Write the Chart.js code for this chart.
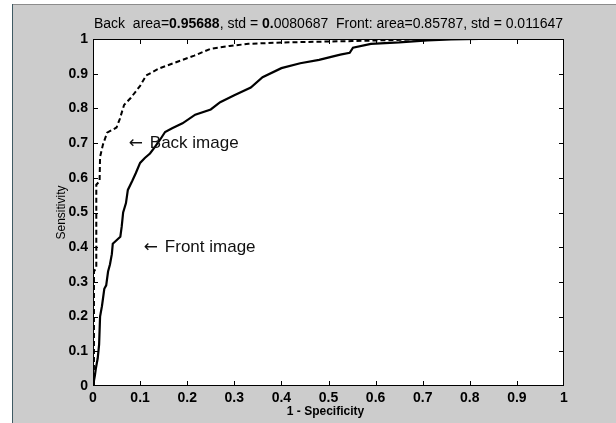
<!DOCTYPE html>
<html>
<head>
<meta charset="utf-8">
<script src="https://cdn.jsdelivr.net/npm/chart.js@4/dist/chart.umd.min.js"></script>
<style>
  html, body { margin: 0; padding: 0; background: #ffffff; }
  canvas { display: block; }
</style>
</head>
<body>
<canvas id="roc" width="616" height="423"></canvas>
<script>
// ROC curves (1 - specificity, sensitivity)
const backFpr = [0.002, 0.002, 0.007, 0.007, 0.014, 0.015, 0.021, 0.03, 0.05, 0.057, 0.066, 0.08, 0.1, 0.113, 0.14, 0.174, 0.215, 0.25, 0.29, 0.33, 0.4, 0.55, 0.72];
const backTpr = [0, 0.33, 0.34, 0.58, 0.59, 0.66, 0.695, 0.73, 0.745, 0.77, 0.81, 0.83, 0.865, 0.895, 0.915, 0.932, 0.952, 0.972, 0.98, 0.986, 0.99, 0.994, 1.0];

const frontFpr = [0, 0.004, 0.006, 0.01, 0.013, 0.015, 0.019, 0.021, 0.024, 0.028, 0.032, 0.036, 0.04, 0.042, 0.05, 0.058, 0.061, 0.064, 0.07, 0.074, 0.083, 0.091, 0.1, 0.11, 0.121, 0.132, 0.142, 0.153, 0.168, 0.19, 0.217, 0.25, 0.27, 0.3, 0.335, 0.36, 0.4, 0.44, 0.48, 0.525, 0.545, 0.552, 0.59, 0.65, 0.71, 0.76, 0.82];
const frontTpr = [0, 0.03, 0.05, 0.08, 0.12, 0.2, 0.23, 0.25, 0.28, 0.29, 0.33, 0.35, 0.38, 0.41, 0.42, 0.43, 0.46, 0.5, 0.527, 0.565, 0.59, 0.614, 0.643, 0.657, 0.67, 0.69, 0.709, 0.732, 0.743, 0.757, 0.782, 0.797, 0.818, 0.838, 0.86, 0.89, 0.916, 0.93, 0.94, 0.955, 0.96, 0.975, 0.986, 0.99, 0.996, 0.999, 1.0];

const tickLabels = ['0', '0.1', '0.2', '0.3', '0.4', '0.5', '0.6', '0.7', '0.8', '0.9', '1'];

// title is drawn in pieces because some numbers are bold in the original
const titleParts = [
  ['Back  area=', false], ['0.95688', true], [', std = ', false], ['0.', true],
  ['0080687  Front: area=0.85787, std = 0.011647', false]
];
const xLabel = '1 - Specificity';
const yLabel = 'Sensitivity';
const notes = [
  { text: 'Back image', x: 0.076, y: 0.70 },
  { text: 'Front image', x: 0.108, y: 0.40 }
];

const FONT = '"Liberation Sans", Arial, sans-serif';

function toPoints(xs, ys){
  return xs.map((x, i) => ({ x: x, y: ys[i] }));
}

const framePlugin = {
  id: 'frame',
  beforeDraw: function(chart){
    const ctx = chart.ctx;
    const a = chart.chartArea;
    ctx.save();
    ctx.fillStyle = '#ffffff';
    ctx.fillRect(0, 0, chart.width, chart.height);
    ctx.fillStyle = '#cccccc';
    ctx.fillRect(12, 4, chart.width - 12, chart.height - 4);
    ctx.strokeStyle = '#8c8c8c';
    ctx.lineWidth = 1;
    ctx.beginPath();
    ctx.moveTo(12, 4.5); ctx.lineTo(chart.width, 4.5);
    ctx.stroke();
    ctx.strokeStyle = '#3f5a63';
    ctx.beginPath();
    ctx.moveTo(12.5, 4); ctx.lineTo(12.5, chart.height);
    ctx.stroke();
    ctx.fillStyle = '#ffffff';
    ctx.fillRect(a.left, a.top, a.right - a.left, a.bottom - a.top);
    ctx.restore();
  },
  afterDraw: function(chart){
    const ctx = chart.ctx;
    const a = chart.chartArea;
    const xs = chart.scales.x, ys = chart.scales.y;
    ctx.save();
    // box and inward ticks on all sides
    ctx.strokeStyle = '#000000';
    ctx.lineWidth = 1;
    ctx.strokeRect(Math.round(a.left) + 0.5, Math.round(a.top) + 0.5, Math.round(a.right - a.left) - 1, Math.round(a.bottom - a.top) - 1);
    const tl = 5;
    ctx.beginPath();
    for(let i = 1; i < 10; i++){
      const px = Math.round(xs.getPixelForValue(i / 10)) + 0.5;
      ctx.moveTo(px, a.bottom); ctx.lineTo(px, a.bottom - tl);
      ctx.moveTo(px, a.top); ctx.lineTo(px, a.top + tl);
      const py = Math.round(ys.getPixelForValue(i / 10)) + 0.5;
      ctx.moveTo(a.left, py); ctx.lineTo(a.left + tl, py);
      ctx.moveTo(a.right, py); ctx.lineTo(a.right - tl, py);
    }
    ctx.stroke();

    // title
    ctx.fillStyle = '#000000';
    ctx.textBaseline = 'middle';
    let total = 0;
    titleParts.forEach(p => {
      ctx.font = (p[1] ? 'bold ' : '') + '14px ' + FONT;
      total += ctx.measureText(p[0]).width;
    });
    let tx = (a.left + a.right) / 2 - total / 2;
    titleParts.forEach(p => {
      ctx.font = (p[1] ? 'bold ' : '') + '14px ' + FONT;
      ctx.textAlign = 'left';
      ctx.fillText(p[0], tx, 24);
      tx += ctx.measureText(p[0]).width;
    });

    // axis titles
    ctx.font = 'bold 12px ' + FONT;
    ctx.textAlign = 'center';
    ctx.fillText(xLabel, (a.left + a.right) / 2 - 3, 412);
    ctx.save();
    ctx.translate(62, (a.top + a.bottom) / 2);
    ctx.rotate(-Math.PI / 2);
    ctx.font = '12px ' + FONT;
    ctx.fillText(yLabel, 0, 0);
    ctx.restore();

    // notes next to the curves: arrow glyph then text
    ctx.textAlign = 'left';
    ctx.fillStyle = '#111111';
    notes.forEach(n => {
      const nx = xs.getPixelForValue(n.x);
      const ny = ys.getPixelForValue(n.y);
      ctx.font = '17px "DejaVu Sans", sans-serif';
      ctx.fillText('\u2190', nx, ny);
      ctx.font = '17px ' + FONT;
      ctx.fillText(n.text, nx + 21, ny);
    });
    ctx.restore();
  }
};

new Chart(document.getElementById('roc'), {
  type: 'line',
  data: {
    datasets: [
      {
        label: 'Back',
        data: toPoints(backFpr, backTpr),
        borderColor: '#000000',
        borderWidth: 2,
        borderDash: [5, 3],
        pointRadius: 0,
        fill: false,
        tension: 0
      },
      {
        label: 'Front',
        data: toPoints(frontFpr, frontTpr),
        borderColor: '#000000',
        borderWidth: 2.2,
        pointRadius: 0,
        fill: false,
        tension: 0
      }
    ]
  },
  options: {
    responsive: false,
    animation: false,
    devicePixelRatio: 1,
    layout: { padding: { top: 39, right: 52, left: 0, bottom: 0 } },
    plugins: {
      legend: { display: false },
      title: { display: false },
      tooltip: { enabled: false }
    },
    scales: {
      x: {
        type: 'linear',
        min: 0,
        max: 1,
        afterFit: function(scale){ scale.height = 37; },
        afterBuildTicks: function(scale){
          scale.ticks = tickLabels.map((t, i) => ({ value: i / 10 }));
        },
        grid: { display: false, drawTicks: false },
        border: { display: false },
        ticks: {
          padding: 4,
          maxRotation: 0,
          autoSkip: false,
          color: '#000000',
          font: { family: FONT, size: 14, weight: 'bold' },
          callback: function(v, i){ return tickLabels[i]; }
        }
      },
      y: {
        type: 'linear',
        min: 0,
        max: 1,
        afterFit: function(scale){ scale.width = 93; },
        afterBuildTicks: function(scale){
          scale.ticks = tickLabels.map((t, i) => ({ value: i / 10 }));
        },
        grid: { display: false, drawTicks: false },
        border: { display: false },
        ticks: {
          padding: 5,
          autoSkip: false,
          color: '#000000',
          font: { family: FONT, size: 14, weight: 'bold' },
          callback: function(v, i){ return tickLabels[i]; }
        }
      }
    }
  },
  plugins: [framePlugin]
});
</script>
</body>
</html>
